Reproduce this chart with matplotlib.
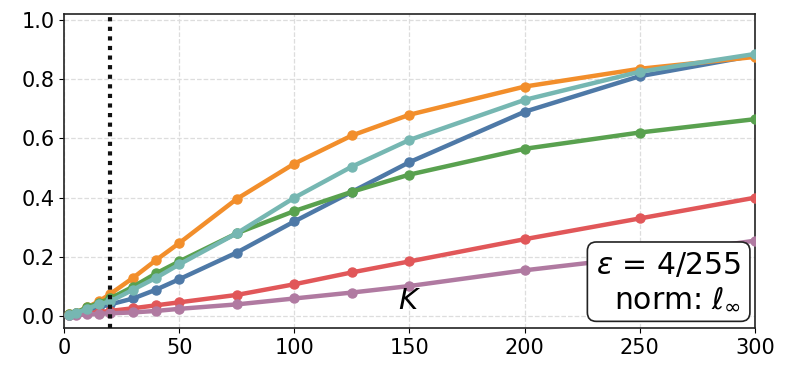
import matplotlib
matplotlib.use("Agg")

import matplotlib.pyplot as plt

# K values (x axis)
ks = [2, 5, 10, 15, 20, 30, 40, 50, 75, 100, 125, 150, 200, 250, 300]

blue   = [0.005, 0.010, 0.020, 0.030, 0.040, 0.060, 0.090, 0.125, 0.215, 0.320, 0.420, 0.520, 0.690, 0.810, 0.880]
orange = [0.008, 0.012, 0.030, 0.050, 0.075, 0.130, 0.190, 0.247, 0.396, 0.515, 0.610, 0.680, 0.775, 0.835, 0.875]
red    = [0.004, 0.006, 0.010, 0.014, 0.018, 0.027, 0.037, 0.047, 0.072, 0.108, 0.148, 0.185, 0.260, 0.330, 0.400]
green  = [0.006, 0.012, 0.030, 0.045, 0.060, 0.100, 0.145, 0.185, 0.280, 0.355, 0.420, 0.478, 0.565, 0.620, 0.665]
purple = [0.003, 0.004, 0.006, 0.008, 0.010, 0.013, 0.018, 0.025, 0.040, 0.060, 0.080, 0.102, 0.155, 0.200, 0.255]
teal   = [0.005, 0.010, 0.025, 0.040, 0.050, 0.090, 0.130, 0.175, 0.280, 0.400, 0.505, 0.595, 0.730, 0.825, 0.885]

k_marker = 20

series = [
    (blue,   "#4E79A7"),
    (orange, "#F28E2B"),
    (red,    "#E15759"),
    (green,  "#59A14F"),
    (purple, "#B07AA1"),
    (teal,   "#76B7B2"),
]

fig = plt.figure(figsize=(7.92, 3.78), dpi=100)
ax = fig.add_axes([0.081, 0.132, 0.872, 0.831])

for vals, col in series:
    ax.plot(ks, vals, color=col, linewidth=3.2, marker="o", markersize=6.5, zorder=3)

ax.axvline(k_marker, color="#111111", linestyle=(0, (1, 1.3)), linewidth=3, zorder=4)

ax.set_xlim(0, 300)
ax.set_ylim(-0.04, 1.02)
ax.set_xticks([0, 50, 100, 150, 200, 250, 300])
ax.set_yticks([0.0, 0.2, 0.4, 0.6, 0.8, 1.0])
ax.tick_params(labelsize=15)
ax.grid(True, linestyle="--", color="#dddddd", linewidth=0.9)
for sp in ax.spines.values():
    sp.set_linewidth(1.2)
    sp.set_color("#222222")

ax.text(150, 0.005, "$K$", fontsize=21, ha="center", va="bottom", zorder=5)

ax.text(0.98, 0.05, "$\\varepsilon$ = 4/255\nnorm: $\\ell_\\infty$",
        transform=ax.transAxes, fontsize=21.5, ha="right", va="bottom",
        multialignment="right", linespacing=1.15, zorder=6,
        bbox=dict(boxstyle="round,pad=0.3", facecolor="white",
                  edgecolor="#222222", linewidth=1.2))

fig.savefig("out.png", dpi=100)
